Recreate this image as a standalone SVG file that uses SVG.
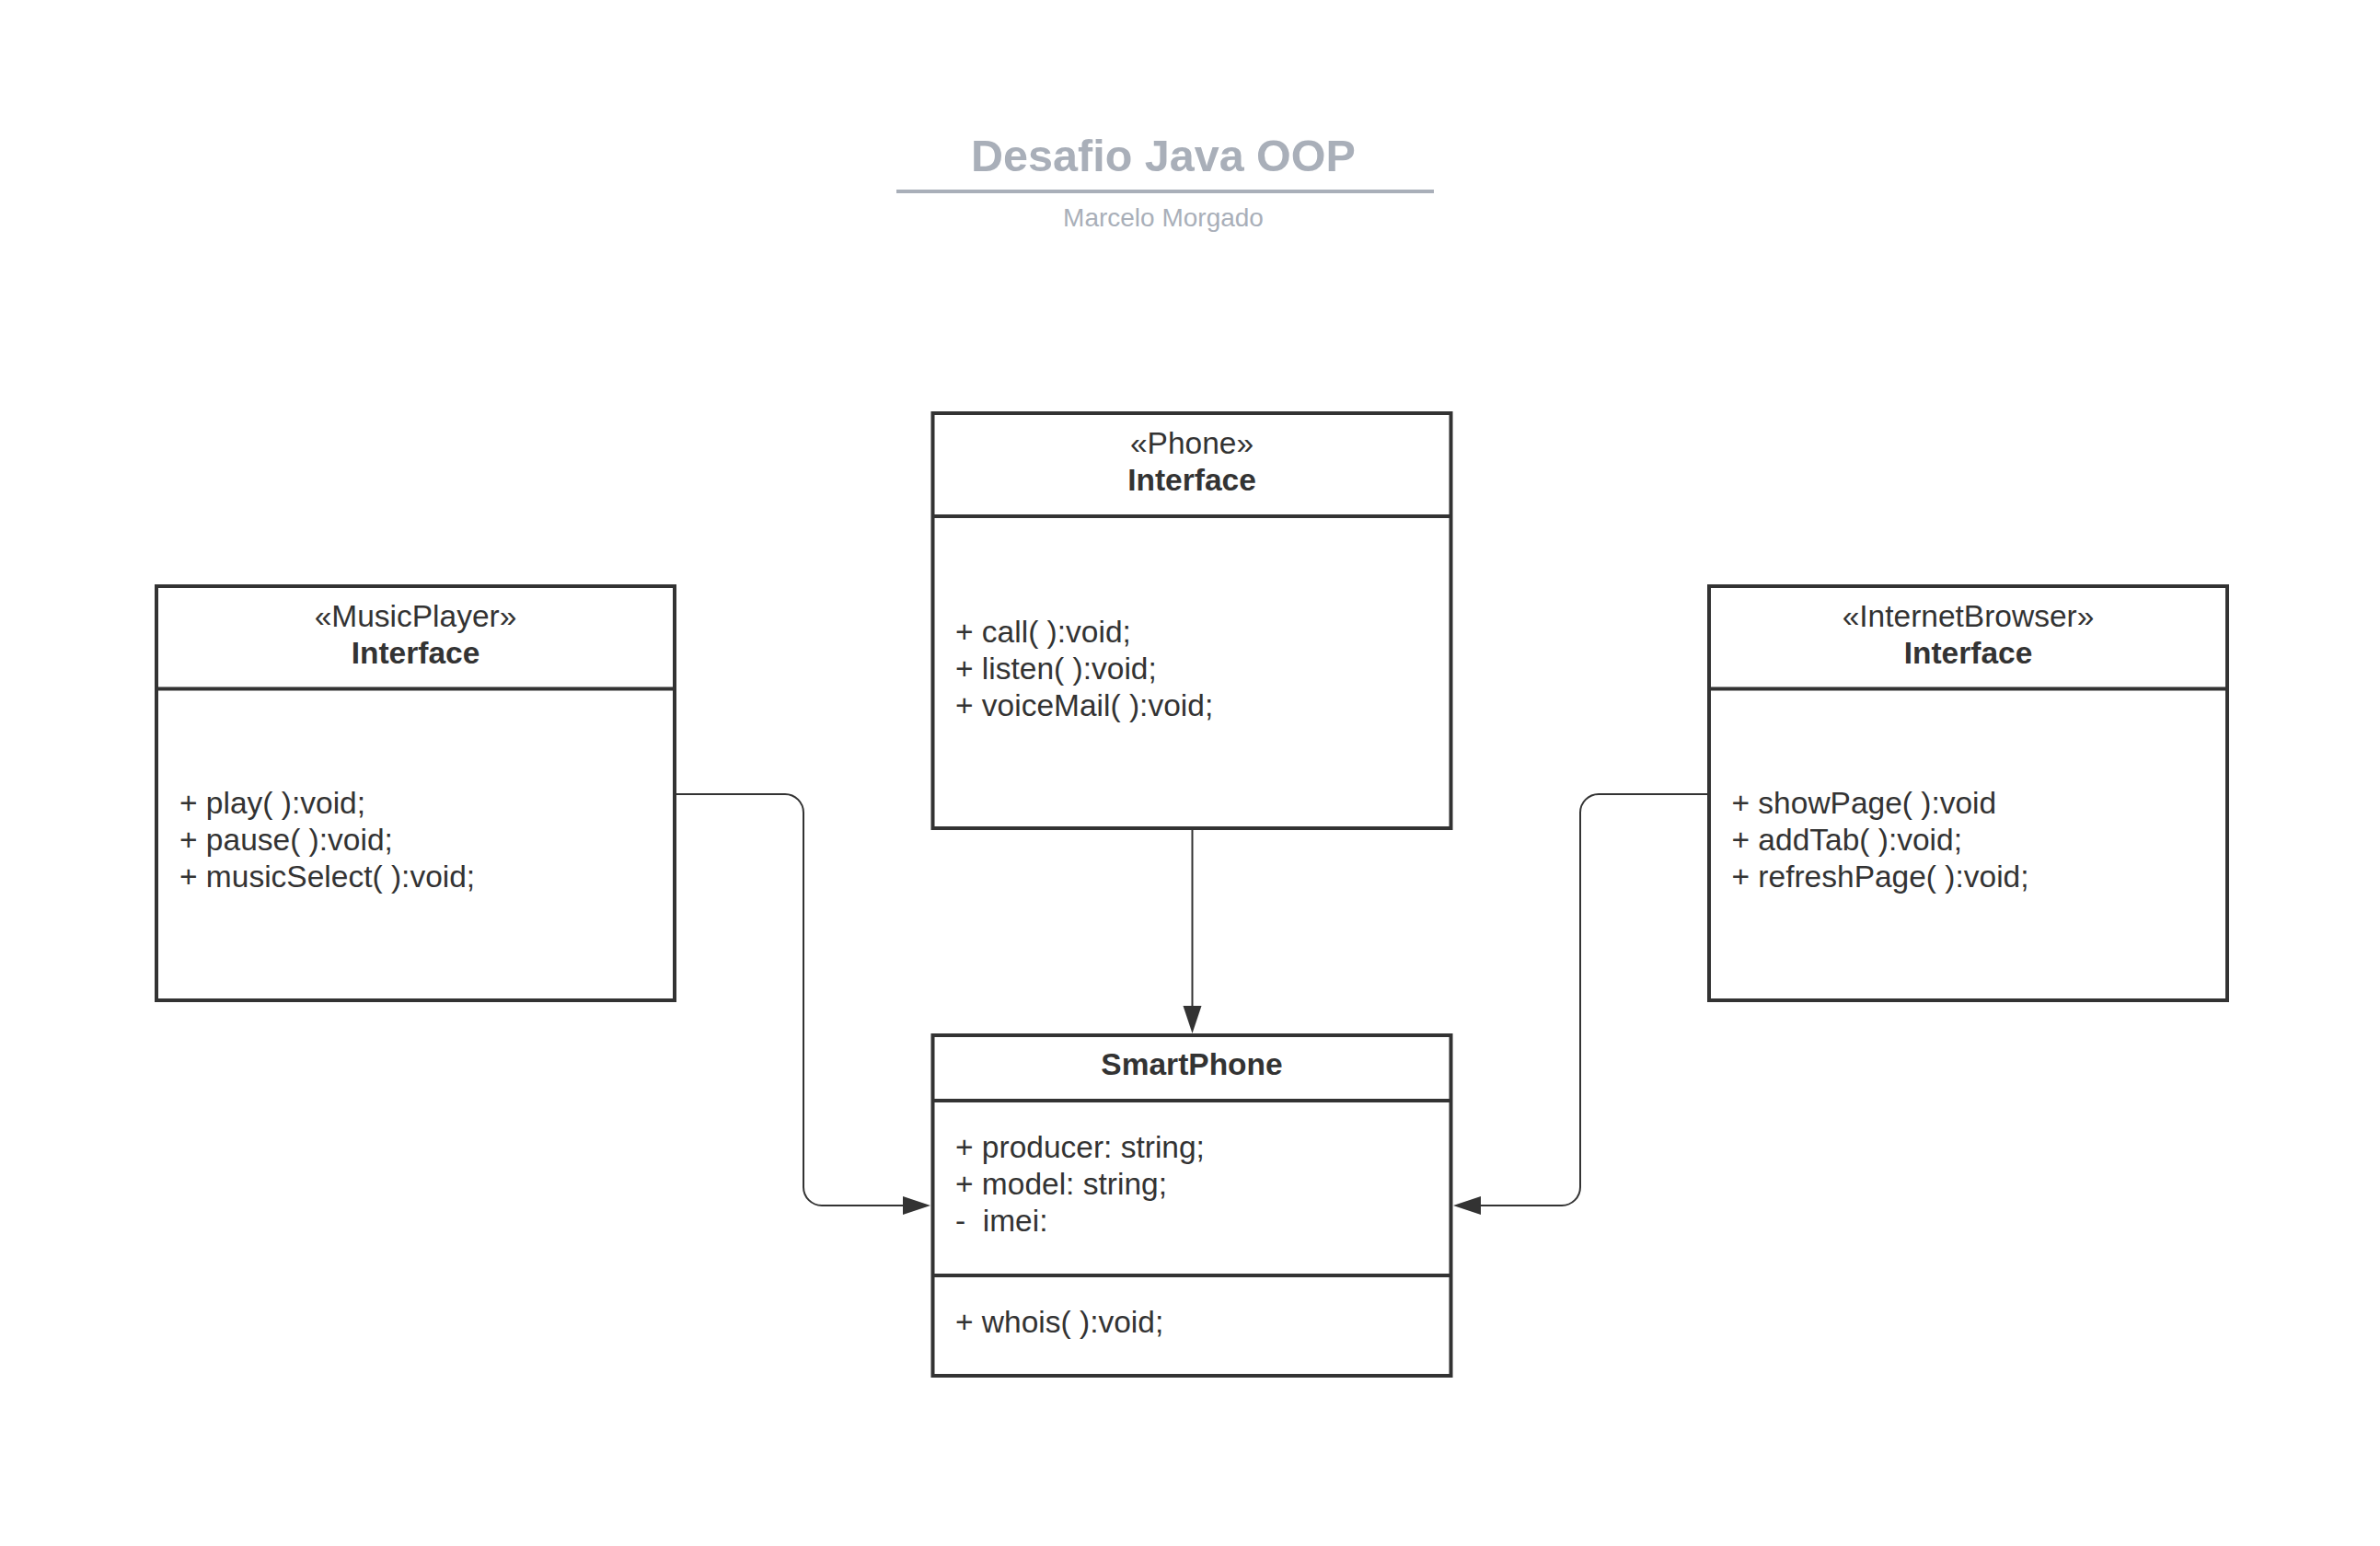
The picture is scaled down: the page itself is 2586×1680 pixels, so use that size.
<svg xmlns="http://www.w3.org/2000/svg" width="2586" height="1680" viewBox="0 0 2586 1680">
  <style>
    .box { fill: #ffffff; stroke: #333333; stroke-width: 4; }
    .div { stroke: #333333; stroke-width: 4; fill: none; }
    .txt { font-family: "Liberation Sans", Arial, sans-serif; font-size: 33.5px; fill: #333333; }
    .ctr { text-anchor: middle; }
    .b { font-weight: bold; }
    .conn { fill: none; stroke: #333333; stroke-width: 2; }
    .arrow { fill: #333333; stroke: none; }
    .title { font-family: "Liberation Sans", Arial, sans-serif; font-size: 48.5px; font-weight: bold; fill: #a9afb9; text-anchor: middle; }
    .sub { font-family: "Liberation Sans", Arial, sans-serif; font-size: 28px; fill: #a9afb9; text-anchor: middle; }
  </style>
  <rect x="0" y="0" width="2586" height="1680" fill="#ffffff"/>

  <g id="title">
    <text class="title" x="1264" y="186">Desafio Java OOP</text>
    <line x1="974" y1="208" x2="1558" y2="208" stroke="#a9afb9" stroke-width="4"/>
    <text class="sub" x="1264" y="246">Marcelo Morgado</text>
  </g>

  <g id="connectors">
    <path class="conn" d="M 1295.5 900 V 1095"/>
    <polygon class="arrow" points="1285.5,1093 1305.5,1093 1295.5,1123"/>
    <path class="conn" d="M 735 863 H 853 A 20 20 0 0 1 873 883 V 1290 A 20 20 0 0 0 893 1310 H 985"/>
    <polygon class="arrow" points="981,1300 981,1320 1011,1310"/>
    <path class="conn" d="M 1855 863 H 1737 A 20 20 0 0 0 1717 883 V 1290 A 20 20 0 0 1 1697 1310 H 1605"/>
    <polygon class="arrow" points="1609,1300 1609,1320 1579,1310"/>
  </g>

  <g id="phone">
    <rect class="box" x="1013.5" y="449" width="563" height="451"/>
    <line class="div" x1="1013.5" y1="561" x2="1576.5" y2="561"/>
    <text class="txt ctr" x="1295" y="493">«Phone»</text>
    <text class="txt ctr b" x="1295" y="533">Interface</text>
    <text class="txt" x="1038" y="698">+ call( ):void;</text>
    <text class="txt" x="1038" y="738">+ listen( ):void;</text>
    <text class="txt" x="1038" y="778">+ voiceMail( ):void;</text>
  </g>

  <g id="musicplayer">
    <rect class="box" x="170" y="637" width="563" height="450"/>
    <line class="div" x1="170" y1="748.5" x2="733" y2="748.5"/>
    <text class="txt ctr" x="451.5" y="681">«MusicPlayer»</text>
    <text class="txt ctr b" x="451.5" y="721">Interface</text>
    <text class="txt" x="195" y="884">+ play( ):void;</text>
    <text class="txt" x="195" y="924">+ pause( ):void;</text>
    <text class="txt" x="195" y="964">+ musicSelect( ):void;</text>
  </g>

  <g id="internetbrowser">
    <rect class="box" x="1857" y="637" width="563" height="450"/>
    <line class="div" x1="1857" y1="748.5" x2="2420" y2="748.5"/>
    <text class="txt ctr" x="2138.5" y="681">«InternetBrowser»</text>
    <text class="txt ctr b" x="2138.5" y="721">Interface</text>
    <text class="txt" x="1881.5" y="884">+ showPage( ):void</text>
    <text class="txt" x="1881.5" y="924">+ addTab( ):void;</text>
    <text class="txt" x="1881.5" y="964">+ refreshPage( ):void;</text>
  </g>

  <g id="smartphone">
    <rect class="box" x="1013.5" y="1125" width="563" height="370"/>
    <line class="div" x1="1013.5" y1="1196" x2="1576.5" y2="1196"/>
    <line class="div" x1="1013.5" y1="1386" x2="1576.5" y2="1386"/>
    <text class="txt ctr b" x="1295" y="1168">SmartPhone</text>
    <text class="txt" x="1038" y="1258">+ producer: string;</text>
    <text class="txt" x="1038" y="1298">+ model: string;</text>
    <text class="txt" x="1038" y="1338" xml:space="preserve">-  imei:</text>
    <text class="txt" x="1038" y="1448">+ whois( ):void;</text>
  </g>
</svg>
